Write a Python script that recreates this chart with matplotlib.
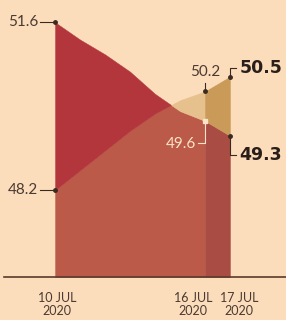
import numpy as np
import matplotlib
matplotlib.use('Agg')
import matplotlib.pyplot as plt

# days since 10 Jul 2020
days = np.array([0, 1, 2, 3, 4, 5, 6, 7])
series_a = np.array([51.6, 51.25, 50.95, 50.6, 50.15, 49.8, 49.6, 49.3])
series_b = np.array([48.2, 48.6, 49.0, 49.4, 49.75, 50.02, 50.2, 50.5])
tick_days = [0, 6, 7]
tick_labels = ['10 JUL\n2020', '16 JUL\n2020', '17 JUL\n2020']
tick_shift = [2, -12, 9]  # px shift of the date labels

BG = '#FCDDBB'
DARK_RED = '#B3363D'
MID_RED = '#BC5A4A'
MID_RED_DK = '#A84C44'
TAN = '#E6C18D'
TAN_DK = '#C99A58'
INK = '#3A2A22'
BASE = 46.44

fig = plt.figure(figsize=(2.86, 3.2), dpi=100)
fig.patch.set_facecolor(BG)
ax = fig.add_axes([0, 0, 1, 1])
ax.set_facecolor(BG)
ax.set_xlim(-2.2, 9.24)
ax.set_ylim(45.57, 52.05)
ax.axis('off')


def with_crossings(x, a, b):
    """Add the points where the two lines cross, so fills meet cleanly"""
    xs, as_, bs = [x[0]], [a[0]], [b[0]]
    for i in range(len(x) - 1):
        d0, d1 = a[i] - b[i], a[i + 1] - b[i + 1]
        if d0 * d1 < 0:
            t = d0 / (d0 - d1)
            xs.append(x[i] + t * (x[i + 1] - x[i]))
            v = a[i] + t * (a[i + 1] - a[i])
            as_.append(v)
            bs.append(v)
        xs.append(x[i + 1])
        as_.append(a[i + 1])
        bs.append(b[i + 1])
    return np.array(xs), np.array(as_), np.array(bs)


def fill_part(x, a, b, under, over_a, over_b):
    x, a, b = with_crossings(x, a, b)
    low = np.minimum(a, b)
    ax.fill_between(x, BASE, low, color=under, ec=under, lw=0.3)
    ax.fill_between(x, b, a, where=a >= b, color=over_a, ec=over_a, lw=0.3)
    ax.fill_between(x, a, b, where=b >= a, color=over_b, ec=over_b, lw=0.3)


fill_part(days[:7], series_a[:7], series_b[:7], MID_RED, DARK_RED, TAN)
fill_part(days[6:], series_a[6:], series_b[6:], MID_RED_DK, DARK_RED, TAN_DK)

ax.axhline(BASE, xmin=4 / 286, xmax=1, color='#5A3A2A', lw=1.2)

lw = 0.8
num_font = dict(family=['Lato', 'DejaVu Sans'], fontsize=11, color='#4A3A32')
bold_font = dict(family='DejaVu Sans', fontsize=12.5, fontweight='bold', color='#2A1E1A')
LIGHT = '#FBE3C6'

# start values
for v in (series_a[0], series_b[0]):
    ax.plot([-0.6, 0], [v, v], color=INK, lw=lw)
    ax.plot(0, v, 'o', color=INK, ms=2.5)
    ax.text(-0.68, v, f'{v:.1f}', ha='right', va='center', **num_font)

# 16 Jul values
vb6, va6 = series_b[6], series_a[6]
ax.plot([6, 6], [vb6, vb6 + 0.17], color=INK, lw=lw)
ax.plot(6, vb6, 'o', color=INK, ms=2.5)
ax.text(6.02, vb6 + 0.4, f'{vb6:.1f}', ha='center', va='center', **num_font)

ax.plot([6, 6, 5.72], [va6, va6 - 0.45, va6 - 0.45], color=LIGHT, lw=lw)
ax.plot(6, va6, 's', color=LIGHT, ms=3)
ax.text(5.64, va6 - 0.46, f'{va6:.1f}', ha='right', va='center',
        family=['Lato', 'DejaVu Sans'], fontsize=11, color=LIGHT)

# 17 Jul values
vb7, va7 = series_b[7], series_a[7]
ax.plot([7, 7, 7.24], [vb7, vb7 + 0.17, vb7 + 0.17], color=INK, lw=lw)
ax.plot(7, vb7, 'o', color=INK, ms=2.5)
ax.text(7.38, vb7 + 0.17, f'{vb7:.1f}', ha='left', va='center', **bold_font)

ax.plot([7, 7, 7.24], [va7, va7 - 0.38, va7 - 0.38], color=INK, lw=lw)
ax.plot(7, va7, 'o', color=INK, ms=2.5)
ax.text(7.36, va7 - 0.38, f'{va7:.1f}', ha='left', va='center', **bold_font)

# date labels
for d, lab, sh in zip(tick_days, tick_labels, tick_shift):
    ax.annotate(lab, (d, BASE), xytext=(sh * 0.72, -10.5), textcoords='offset points',
                ha='center', va='top', fontsize=9, linespacing=1.1,
                family=['Lato', 'DejaVu Sans'], color='#4A3A32')

fig.savefig('out.png', dpi=100, facecolor=BG)
